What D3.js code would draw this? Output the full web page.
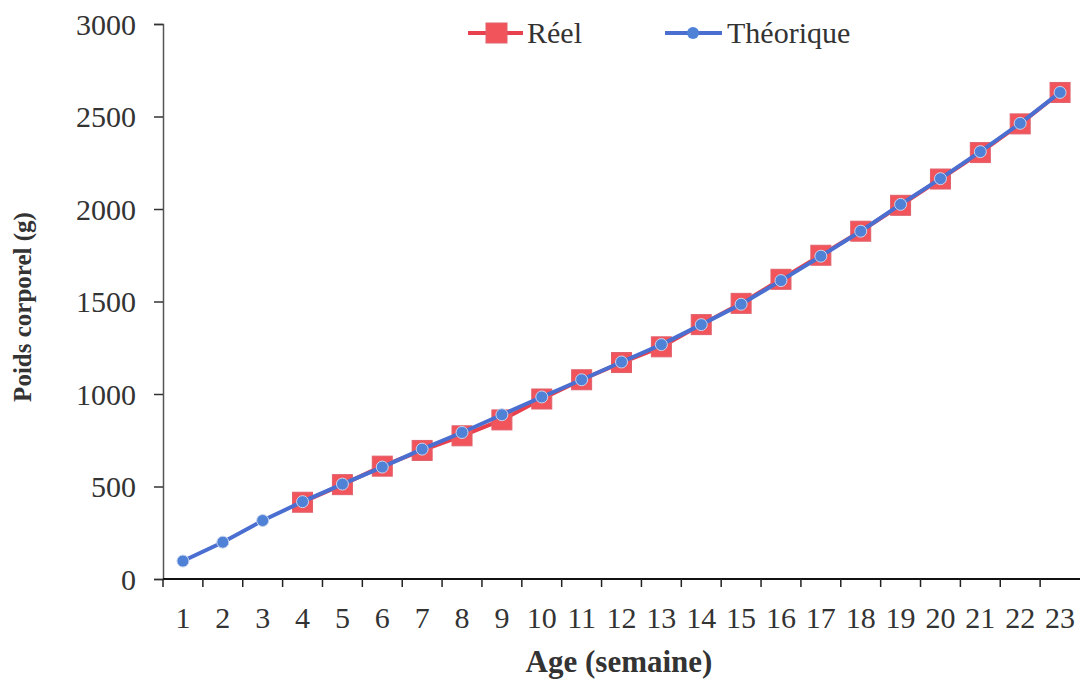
<!DOCTYPE html>
<html>
<head>
<meta charset="utf-8">
<script src="https://cdn.jsdelivr.net/npm/d3@7"></script>
<style>
  body { margin: 0; background: #fff; }
  svg { display: block; }
  text { font-family: "Liberation Serif", "Times New Roman", serif; fill: #333; }
</style>
</head>
<body>
<svg id="chart" width="1080" height="680"></svg>
<script>
// ---- data ----
const weeks = ["1","2","3","4","5","6","7","8","9","10","11","12","13","14","15","16","17","18","19","20","21","22","23"];
const theorique = [97, 199, 316, 418, 513, 605, 702, 792, 888, 984, 1077, 1173, 1267, 1375, 1485, 1613, 1745, 1880, 2025, 2164, 2310, 2463, 2630];
const reelWeeks = ["4","5","6","7","8","9","10","11","12","13","14","15","16","17","18","19","20","21","22","23"];
const reel = [415, 510, 610, 695, 774, 860, 973, 1077, 1170, 1255, 1375, 1490, 1620, 1750, 1880, 2020, 2162, 2305, 2460, 2630];
const yTicks = [0, 500, 1000, 1500, 2000, 2500, 3000];
const seriesNames = ["Réel", "Théorique"];

// ---- layout ----
const svg = d3.select("#chart");
const mLeft = 163, mRight = 1080, mTop = 24, mBottom = 579;

const x = d3.scaleBand().domain(weeks).range([mLeft, mRight]).paddingInner(0).paddingOuter(0);
const y = d3.scaleLinear().domain([0, 3000]).range([mBottom, mTop]);
const cx = d => x(d) + x.bandwidth() / 2;

// y axis
const yAxis = svg.append("g").attr("transform", `translate(${mLeft},0)`)
  .call(d3.axisLeft(y).tickValues(yTicks).tickSize(9).tickPadding(18).tickFormat(d3.format("d")));
yAxis.select(".domain").attr("stroke", "#555").attr("stroke-width", 1.5);
yAxis.selectAll(".tick line").attr("stroke", "#333").attr("stroke-width", 1.5);
yAxis.selectAll(".tick text").attr("font-size", 30).attr("font-family", "Liberation Serif").attr("fill", "#3a3a3a").attr("dy", "0.34em");

// x axis line
svg.append("line").attr("x1", mLeft).attr("x2", mRight).attr("y1", mBottom).attr("y2", mBottom)
  .attr("stroke", "#111").attr("stroke-width", 2);
// x ticks at band boundaries
const bounds = weeks.map(w => x(w));
svg.append("g").selectAll("line").data(bounds).join("line")
  .attr("x1", d => d).attr("x2", d => d).attr("y1", mBottom).attr("y2", mBottom + 8)
  .attr("stroke", "#222").attr("stroke-width", 1.5);
svg.append("g").selectAll("text").data(weeks).join("text")
  .attr("x", d => cx(d)).attr("y", 628).attr("text-anchor", "middle")
  .attr("font-size", 30).attr("fill", "#3a3a3a").text(d => d);

// axis titles
svg.append("text").attr("transform", "translate(31,307) rotate(-90)")
  .attr("text-anchor", "middle").attr("font-size", 25).attr("font-weight", "bold")
  .attr("fill", "#3a3a3a").text("Poids corporel (g)");
svg.append("text").attr("x", 619).attr("y", 672).attr("text-anchor", "middle")
  .attr("font-size", 31).attr("font-weight", "bold").attr("fill", "#3a3a3a")
  .text("Age (semaine)");

// ---- series ----
const redFill = "#f2545c", redLine = "#e8404c";
const blueFill = "#4f82d6", blueLine = "#4a6fd0";

const lineR = d3.line().x((d, i) => cx(reelWeeks[i])).y(d => y(d));
svg.append("path").datum(reel).attr("d", lineR).attr("fill", "none")
  .attr("stroke", redLine).attr("stroke-width", 4);
svg.append("g").selectAll("rect").data(reel).join("rect")
  .attr("x", (d, i) => cx(reelWeeks[i]) - 10).attr("y", d => y(d) - 10)
  .attr("width", 20).attr("height", 20)
  .attr("fill", redFill).attr("stroke", "#e0606a").attr("stroke-width", 1);

const lineT = d3.line().x((d, i) => cx(weeks[i])).y(d => y(d));
svg.append("path").datum(theorique).attr("d", lineT).attr("fill", "none")
  .attr("stroke", blueLine).attr("stroke-width", 4);
svg.append("g").selectAll("circle").data(theorique).join("circle")
  .attr("cx", (d, i) => cx(weeks[i])).attr("cy", d => y(d)).attr("r", 6)
  .attr("fill", blueFill).attr("stroke", "#c8d4ee").attr("stroke-width", 1);

// ---- legend ----
const lg = svg.append("g");
lg.append("line").attr("x1", 468).attr("x2", 523).attr("y1", 33).attr("y2", 33)
  .attr("stroke", redLine).attr("stroke-width", 4);
lg.append("rect").attr("x", 486).attr("y", 23).attr("width", 21).attr("height", 20)
  .attr("fill", redFill).attr("stroke", "#e0606a");
lg.append("text").attr("x", 527).attr("y", 43).attr("font-size", 30).attr("fill", "#3a3a3a").text(seriesNames[0]);
lg.append("line").attr("x1", 665).attr("x2", 722).attr("y1", 33).attr("y2", 33)
  .attr("stroke", blueLine).attr("stroke-width", 4);
lg.append("circle").attr("cx", 693).attr("cy", 33).attr("r", 6).attr("fill", blueFill);
lg.append("text").attr("x", 727).attr("y", 43).attr("font-size", 30).attr("fill", "#3a3a3a").text(seriesNames[1]);
</script>
</body>
</html>
